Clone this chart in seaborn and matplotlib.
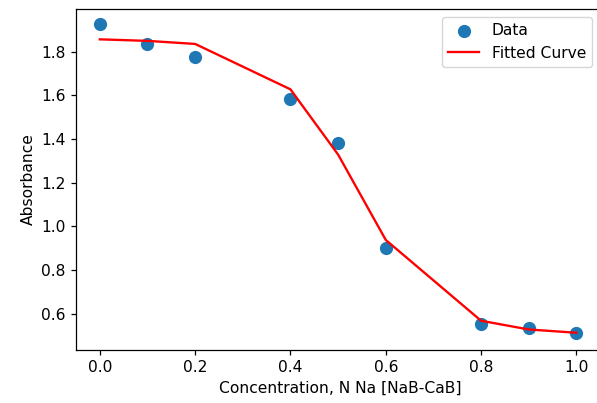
import matplotlib
matplotlib.use("Agg")
import matplotlib.pyplot as plt
import seaborn as sns
import numpy as np

concentration = [0.0, 0.1, 0.2, 0.4, 0.5, 0.6, 0.8, 0.9, 1.0]
absorbance_data = [1.928, 1.834, 1.776, 1.582, 1.382, 0.900, 0.550, 0.535, 0.509]
absorbance_fit = [1.856, 1.849, 1.835, 1.627, 1.328, 0.937, 0.567, 0.527, 0.512]

sc = 1.12
plt.rcParams['font.family'] = ['DejaVu Sans']
plt.rcParams['font.size'] = 10 * sc
plt.rcParams['axes.linewidth'] = 0.8 * sc
plt.rcParams['xtick.major.size'] = 3.5 * sc
plt.rcParams['ytick.major.size'] = 3.5 * sc
plt.rcParams['xtick.major.width'] = 0.8 * sc
plt.rcParams['ytick.major.width'] = 0.8 * sc

fig = plt.figure(figsize=(5.97, 4.03), dpi=100)
ax = fig.add_axes([76/597, 53/403, 529/597, 341/403])

sns.scatterplot(x=concentration, y=absorbance_data, ax=ax, color='#1f77b4',
                s=36 * sc * sc * 2.0, linewidth=0, label='Data')
sns.lineplot(x=concentration, y=absorbance_fit, ax=ax, color='red',
             linewidth=1.5 * sc, label='Fitted Curve')

ax.set_xlabel('Concentration, N Na [NaB-CaB]')
ax.set_ylabel('Absorbance')
ax.set_xticks([0.0, 0.2, 0.4, 0.6, 0.8, 1.0])
ax.set_yticks([0.6, 0.8, 1.0, 1.2, 1.4, 1.6, 1.8])
ax.set_xlim(-0.05, 1.06)
ax.set_ylim(0.433, 1.995)
ax.legend(loc='upper right', bbox_to_anchor=(524/529, 1.0))

fig.savefig('out.png', dpi=100)
